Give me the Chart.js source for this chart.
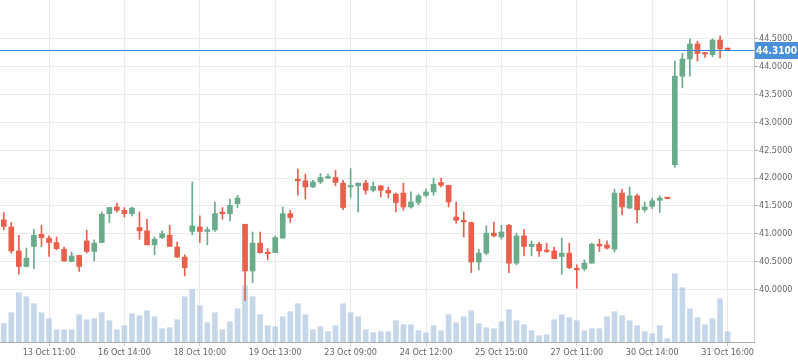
<!DOCTYPE html>
<html>
<head>
<meta charset="utf-8">
<script src="https://cdn.jsdelivr.net/npm/chart.js@4/dist/chart.umd.min.js"></script>
<style>
  html, body { margin: 0; padding: 0; background: #fff; }
  #wrap { width: 798px; height: 363px; position: relative; }
</style>
</head>
<body>
<div id="wrap"><canvas id="priceChart"></canvas></div>
<script>
// candle data, one entry per bar (oldest first)
const opens  = [41.25,41.12,40.69,40.41,40.77,40.99,40.92,40.84,40.72,40.50,40.61,40.87,40.68,40.84,41.36,41.48,41.42,41.36,41.11,41.05,
                40.80,40.93,40.97,40.76,40.58,41.04,41.12,41.04,41.07,41.37,41.36,41.54,41.17,40.33,40.83,40.65,40.66,40.92,41.36,41.98,
                41.95,41.84,41.93,42.00,42.01,41.91,41.84,41.86,41.91,41.78,41.86,41.78,41.71,41.73,41.48,41.56,41.69,41.75,41.92,41.87,
                41.30,41.24,41.20,40.49,40.65,41.01,40.94,41.15,40.47,40.96,40.77,40.81,40.70,40.69,40.59,40.65,40.37,40.37,40.47,40.81,
                40.80,40.72,41.73,41.46,41.68,41.43,41.49,41.60,41.64,42.24,43.83,44.14,44.41,44.25,44.22,44.48,44.32]
const highs  = [41.38,41.20,40.97,40.74,41.08,41.15,40.96,40.94,40.76,40.67,40.61,41.06,40.89,41.39,41.47,41.55,41.47,41.48,41.39,41.26,
                40.94,41.05,41.15,40.85,40.62,41.93,41.32,41.12,41.57,41.47,41.62,41.69,41.17,41.03,41.03,40.73,40.96,41.48,41.42,42.16,
                42.07,41.96,42.08,42.07,42.14,41.96,42.17,41.91,41.96,41.93,41.87,41.84,41.73,41.91,41.75,41.71,41.80,42.00,42.00,41.87,
                41.57,41.39,41.21,40.72,41.14,41.21,41.15,41.17,41.01,41.08,40.87,40.85,40.83,40.76,40.92,40.83,40.44,40.53,40.83,40.90,
                40.87,41.80,41.80,41.84,41.71,41.57,41.64,41.68,41.64,44.10,44.24,44.50,44.46,44.26,44.50,44.55,44.32]
const lows   = [41.07,40.65,40.27,40.40,40.37,40.77,40.59,40.71,40.50,40.50,40.32,40.65,40.51,40.84,41.20,41.39,41.30,41.32,40.90,40.80,
                40.62,40.91,40.77,40.57,40.24,40.98,40.84,40.80,41.04,41.26,41.23,41.47,39.80,40.12,40.65,40.53,40.66,40.92,41.20,41.69,
                41.62,41.83,41.90,41.99,41.86,41.43,41.65,41.39,41.71,41.75,41.66,41.64,41.39,41.42,41.46,41.52,41.66,41.69,41.84,41.48,
                41.19,40.94,40.30,40.35,40.62,40.94,40.90,40.30,40.44,40.60,40.60,40.59,40.66,40.55,40.27,40.37,40.02,40.33,40.47,40.68,
                40.72,40.67,41.34,41.45,41.20,41.39,41.45,41.38,41.63,42.19,43.62,43.83,44.10,44.17,44.18,44.16,44.31]
const closes = [41.13,40.69,40.41,40.56,40.97,40.93,40.84,40.73,40.51,40.60,40.41,40.68,40.83,41.35,41.47,41.42,41.36,41.46,41.05,40.80,
                40.90,41.00,40.77,40.58,40.39,41.14,41.04,41.07,41.36,41.36,41.51,41.64,40.33,40.83,40.66,40.64,40.93,41.36,41.29,41.95,
                41.84,41.93,42.01,42.02,41.92,41.47,41.86,41.91,41.78,41.85,41.78,41.73,41.56,41.48,41.57,41.68,41.75,41.89,41.87,41.57,
                41.24,41.21,40.49,40.65,41.01,40.96,41.03,40.47,40.96,40.77,40.81,40.69,40.68,40.55,40.65,40.39,40.35,40.47,40.81,40.78,
                40.74,41.73,41.48,41.68,41.43,41.48,41.59,41.64,41.63,43.83,44.14,44.41,44.24,44.23,44.48,44.32,44.31]
const volumes = [1870,2930,4930,4530,3830,2930,2330,1230,1230,1230,2730,2230,2330,2930,2130,1230,1630,2830,2630,3130,
                 2530,1330,1430,2230,4530,5230,3630,1930,2930,1230,2030,3330,5630,4530,2730,1630,1530,2530,3030,3830,
                 2730,1230,1530,1030,1630,3830,2930,2530,1230,930,1030,1030,2130,1730,1730,1130,930,1630,1130,2730,
                 1930,2530,3130,1830,1430,1330,2030,3230,2130,1730,1130,630,730,2230,2730,2430,2130,1130,1330,1330,
                 2530,3030,2630,2130,1630,1030,830,1630,330,6830,5430,3330,2430,1730,2330,4330,1030]

// x axis labels sit on every 10th bar, starting at bar 6
const tickLabels = ['13 Oct 11:00','16 Oct 14:00','18 Oct 10:00','19 Oct 13:00','23 Oct 09:00',
                    '24 Oct 12:00','25 Oct 15:00','27 Oct 11:00','30 Oct 14:00','31 Oct 16:00']
const firstTick = 6
const tickStep = 10
const priceTicks = [40, 40.5, 41, 41.5, 42, 42.5, 43, 43.5, 44, 44.5]
const lastPrice = 44.31

const UP = '#6aab8c'
const DOWN = '#ea5f4b'
const FONT = "'DejaVu Sans Condensed', 'Liberation Sans', sans-serif"

Chart.defaults.font.family = FONT
Chart.defaults.font.size = 9
Chart.defaults.color = '#666'

const barColors = opens.map((o, i) => closes[i] >= o ? UP : DOWN)

const lastPricePlugin = {
    id: 'lastPrice',
    afterDraw(chart) {
        const ctx = chart.ctx
        const area = chart.chartArea
        const y = Math.round(chart.scales.y.getPixelForValue(lastPrice)) + 0.5
        ctx.save()
        ctx.globalAlpha = 1
        ctx.strokeStyle = '#3a89d8'
        ctx.lineWidth = 1
        ctx.setLineDash([])
        ctx.beginPath()
        ctx.moveTo(area.left, y)
        ctx.lineTo(area.right, y)
        ctx.stroke()
        //label box on the price axis
        ctx.fillStyle = '#4a90d9'
        ctx.fillRect(area.right + 1, y - 8.5, chart.width - area.right - 1, 17)
        ctx.fillStyle = '#fff'
        ctx.font = 'bold 10px ' + FONT
        ctx.textAlign = 'center'
        ctx.textBaseline = 'middle'
        ctx.fillText(lastPrice.toFixed(4), (area.right + chart.width) / 2 + 0.5, y + 0.5)
        ctx.restore()
    }
}

// chart.js pads the chart area for the end labels; the reference doesn't
function noPadding(scale) {
    scale.paddingTop = 0
    scale.paddingBottom = 0
    scale.paddingLeft = 0
    scale.paddingRight = 0
}

window.addEventListener('load', () => {
    const ctx = document.getElementById('priceChart')

    new Chart(ctx, {
        type: 'bar',
        data: {
            datasets: [
                {
                    label: 'Body',
                    data: opens.map((o, i) => ({x: i, y: [o, closes[i]]})),
                    backgroundColor: barColors,
                    barThickness: 5,
                    minBarLength: 1.5,
                    grouped: false,
                    order: 1
                },
                {
                    label: 'Wick',
                    data: lows.map((l, i) => ({x: i, y: [l, highs[i]]})),
                    backgroundColor: barColors,
                    barThickness: 1,
                    minBarLength: 1,
                    grouped: false,
                    order: 2
                },
                {
                    label: 'Volume',
                    data: volumes.map((v, i) => ({x: i, y: v})),
                    backgroundColor: 'rgba(142, 176, 213, 0.5)',
                    barThickness: 5,
                    grouped: false,
                    yAxisID: 'vol',
                    order: 3
                }
            ]
        },
        options: {
            responsive: true,
            maintainAspectRatio: false,
            animation: false,
            layout: { padding: 0 },
            plugins: {
                legend: { display: false },
                tooltip: { enabled: false }
            },
            scales: {
                x: {
                    type: 'linear',
                    min: -0.5,
                    max: 99.5,
                    offset: false,
                    afterBuildTicks: (scale) => {
                        scale.ticks = tickLabels.map((t, k) => ({value: firstTick + k * tickStep}))
                    },
                    afterFit: (scale) => {
                        scale.height = 21
                        noPadding(scale)
                    },
                    ticks: {
                        autoSkip: false,
                        maxRotation: 0,
                        padding: 1,
                        callback: (v) => tickLabels[Math.round((v - firstTick) / tickStep)]
                    },
                    grid: {
                        offset: false,
                        color: '#ebebeb',
                        tickColor: '#cccccc',
                        tickLength: 4
                    },
                    border: { color: '#aaaaaa' }
                },
                y: {
                    position: 'right',
                    min: 39.053,
                    max: 45.2,
                    afterBuildTicks: (scale) => {
                        scale.ticks = priceTicks.map(v => ({value: v}))
                    },
                    afterFit: (scale) => {
                        scale.width = 44
                        noPadding(scale)
                    },
                    ticks: {
                        padding: 1,
                        callback: (v) => Number(v).toFixed(4)
                    },
                    grid: {
                        color: '#ebebeb',
                        tickColor: '#aaaaaa',
                        tickLength: 4
                    },
                    border: { color: '#c8c8c8' }
                },
                vol: {
                    display: false,
                    min: 0,
                    max: 34200
                }
            }
        },
        plugins: [lastPricePlugin]
    })
})
</script>
</body>
</html>
